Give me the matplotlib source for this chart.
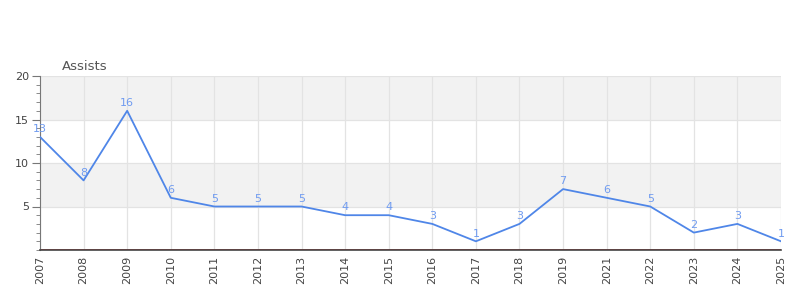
#!/usr/bin/env python3
import matplotlib
matplotlib.use("Agg")
import matplotlib.pyplot as plt
from matplotlib.ticker import MultipleLocator

# ---- data ----
years = ["2007", "2008", "2009", "2010", "2011", "2012", "2013", "2014", "2015",
         "2016", "2017", "2018", "2019", "2021", "2022", "2023", "2024", "2025"]
assists = [13, 8, 16, 6, 5, 5, 5, 4, 4, 3, 1, 3, 7, 6, 5, 2, 3, 1]

line_color = "#4f86e8"
label_color = "#6f9bf0"

fig = plt.figure(figsize=(8, 3), dpi=100)
ax = fig.add_axes([40 / 800, 50 / 300, 741 / 800, 174 / 300])

x = list(range(len(years)))
ax.set_xlim(0, len(years) - 1)
ax.set_ylim(0, 20)

# alternating bands
for lo in range(0, 20, 5):
    if (lo // 5) % 2 == 1:
        ax.axhspan(lo, lo + 5, color="#f2f2f2", zorder=0, lw=0)

# grid
for xi in x:
    ax.axvline(xi, color="#e3e3e3", lw=0.9, zorder=1)
for yv in (5, 10, 15, 20):
    ax.axhline(yv, color="#e3e3e3", lw=0.9, zorder=1)

ax.plot(x, assists, color=line_color, lw=1.3, zorder=3)
for xi, v in zip(x, assists):
    ax.annotate(str(v), (xi, v), xytext=(0, 2), textcoords="offset points",
                ha="center", va="bottom", fontsize=8, color=label_color, zorder=4)

ax.axhline(0, color="#d62020", lw=1.2, zorder=2)

ax.set_xticks(x)
ax.set_xticklabels(years, rotation=90, fontsize=8, color="#444444")
ax.tick_params(axis="x", length=0, pad=4)

ax.set_yticks([5, 10, 15, 20])
ax.yaxis.set_minor_locator(MultipleLocator(1))
ax.tick_params(axis="y", which="major", length=6, color="#777777", labelsize=8,
               labelcolor="#444444", pad=2)
ax.tick_params(axis="y", which="minor", length=3, color="#777777")

for s in ("top", "right"):
    ax.spines[s].set_visible(False)
ax.spines["left"].set_color("#777777")
ax.spines["bottom"].set_color("#444444")
ax.spines["bottom"].set_linewidth(1.2)

fig.text(62 / 800, 1 - 66 / 300, "Assists", fontsize=9.5, color="#555555",
         ha="left", va="center")

fig.savefig("out.png", dpi=100)
